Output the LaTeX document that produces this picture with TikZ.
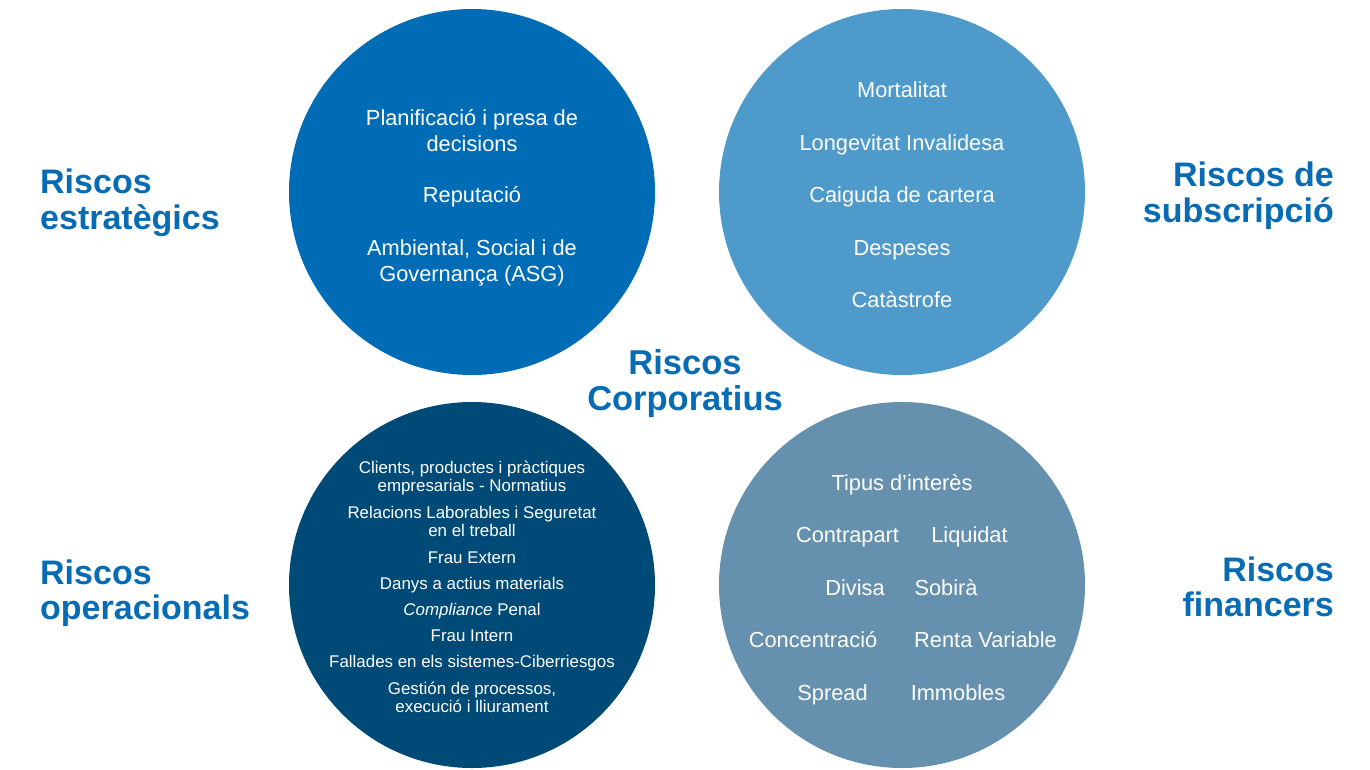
\documentclass[tikz,border=0pt]{standalone}
\usepackage{fontspec}
\setmainfont{Liberation Sans}
\definecolor{cTL}{RGB}{0,108,182}
\definecolor{cTR}{RGB}{78,155,203}
\definecolor{cBL}{RGB}{0,74,120}
\definecolor{cBR}{RGB}{101,145,174}
\definecolor{head}{RGB}{8,108,181}
\begin{document}
\begin{tikzpicture}[x=1pt,y=-1pt,
  bubble/.style={circle,inner sep=0pt,minimum size=366pt,draw=none},
  big/.style={text=white,font=\fontsize{21.8}{26}\selectfont,anchor=base,inner sep=0pt,align=center},
  small/.style={text=white,font=\fontsize{16.9}{18}\selectfont,anchor=base,inner sep=0pt,align=center},
  headL/.style={text=head,font=\fontsize{34}{35.5}\selectfont\bfseries,anchor=base west,inner sep=0pt,align=left},
  headR/.style={text=head,font=\fontsize{34}{35.5}\selectfont\bfseries,anchor=base east,inner sep=0pt,align=right},
  headC/.style={text=head,font=\fontsize{34.5}{35.5}\selectfont\bfseries,anchor=base,inner sep=0pt,align=center}]
\useasboundingbox[fill=white] (0,0) rectangle (1370,769);
% circles
\node[bubble,fill=cTL] (tl) at (472,192) {};
\node[bubble,fill=cTR] (tr) at (902,192) {};
\node[bubble,fill=cBL] (bl) at (472,585) {};
\node[bubble,fill=cBR] (br) at (902,585) {};
% top-left items (base = last line)
\node[big] (tl1) at (472,151) {Planificació i presa de\\decisions};
\node[big] (tl2) at (472,202) {Reputació};
\node[big] (tl3) at (472,281) {Ambiental, Social i de\\Governança (ASG)};
% top-right items
\node[big] (tr1) at (902,97) {Mortalitat};
\node[big] (tr2) at (902,150.5) {Longevitat Invalidesa};
\node[big] (tr3) at (902,202.5) {Caiguda de cartera};
\node[big] (tr4) at (902,255) {Despeses};
\node[big] (tr5) at (902,307) {Catàstrofe};
% bottom-left items
\node[small] (bl1) at (472,491.5) {Clients, productes i pràctiques\\empresarials - Normatius};
\node[small] (bl2) at (472,536.5) {Relacions Laborables i Seguretat\\en el treball};
\node[small] (bl3) at (472,563.5) {Frau Extern};
\node[small] (bl4) at (472,589) {Danys a actius materials};
\node[small] (bl5) at (472,615) {\itshape Compliance\upshape{} Penal};
\node[small] (bl6) at (472,641) {Frau Intern};
\node[small] (bl7) at (472,667.5) {Fallades en els sistemes-Ciberriesgos};
\node[small] (bl8) at (472,712) {Gestión de processos,\\execució i lliurament};
% bottom-right items
\node[big] (br1) at (902,490) {Tipus d’interès};
\node[big] (br2) at (847.5,542.7) {Contrapart};
\node[big] (br3) at (969.5,542.7) {Liquidat};
\node[big] (br4) at (855,595) {Divisa};
\node[big] (br5) at (946,595) {Sobirà};
\node[big] (br6) at (813,647.3) {Concentració};
\node[big] (br7) at (985.5,647.3) {Renta Variable};
\node[big] (br8) at (832.5,700) {Spread};
\node[big] (br9) at (958,700) {Immobles};
% headings (base = last line)
\node[headL] (h1) at (40,229) {Riscos\\estratègics};
\node[headR] (h2) at (1334,222) {Riscos de\\subscripció};
\node[headC] (h0) at (685,410) {Riscos\\Corporatius};
\node[headL] (h3) at (40,619.5) {Riscos\\operacionals};
\node[headR] (h4) at (1334,616.5) {Riscos\\financers};
\end{tikzpicture}
\end{document}
